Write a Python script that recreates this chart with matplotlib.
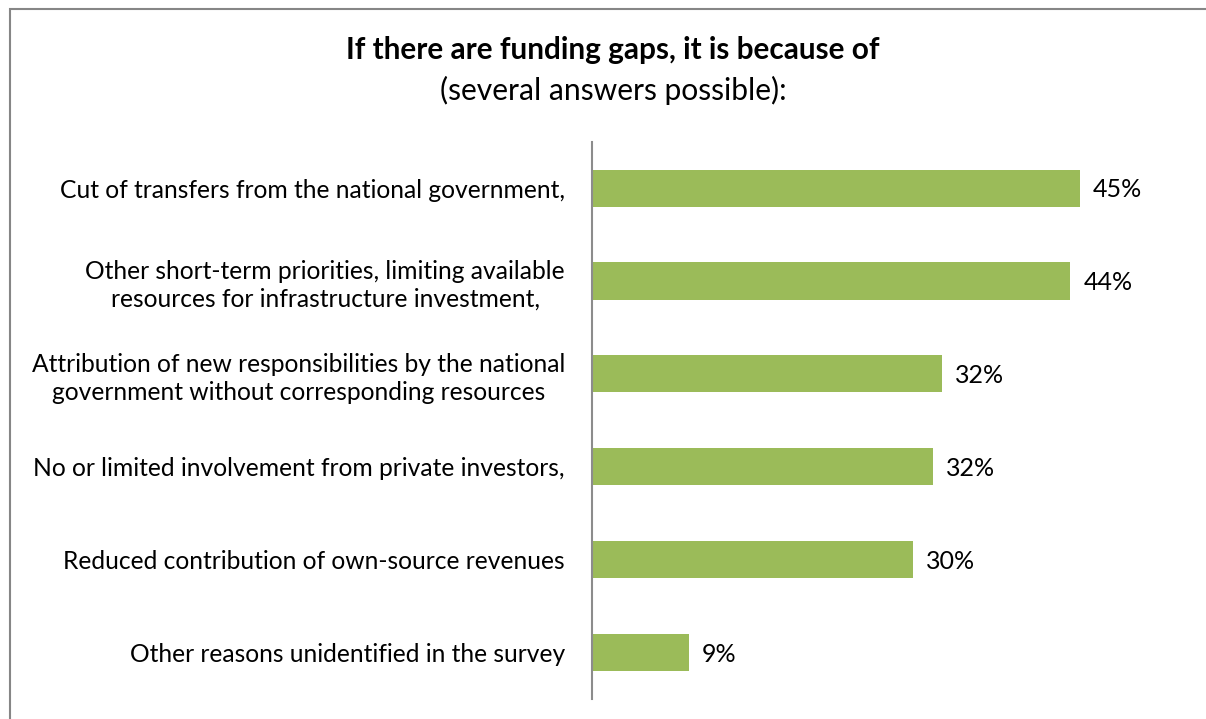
import matplotlib.pyplot as plt
from matplotlib.patches import Rectangle

categories = [
    "Cut of transfers from the national government,",
    "Other short-term priorities, limiting available\nresources for infrastructure investment,",
    "Attribution of new responsibilities by the national\ngovernment without corresponding resources",
    "No or limited involvement from private investors,",
    "Reduced contribution of own-source revenues",
    "Other reasons unidentified in the survey",
]
shares = [45.2, 44.3, 32.4, 31.6, 29.7, 9.0]

plt.rcParams["font.family"] = ["Lato", "DejaVu Sans"]

fig = plt.figure(figsize=(12.06, 7.19), dpi=100)
ax = fig.add_axes([592 / 1206, 0.028, 540 / 1206, 0.775])

pos = list(range(len(categories)))
ax.barh(pos, shares, height=0.4, color="#9BBB59")
for y, v in zip(pos, shares):
    ax.text(v + 1.2, y + 0.02, f"{v:.0f}%", va="center", ha="left", fontsize=18)

ax.set_xlim(0, 50)
ax.set_ylim(5.5, -0.5)
ax.set_xticks([])
ax.set_yticks(pos)
ax.set_yticklabels(categories, fontsize=17.7, linespacing=1.25)
for lbl in ax.get_yticklabels():
    lbl.set_multialignment("center")
ax.tick_params(axis="y", length=0, pad=19.5)
for side in ("top", "right", "bottom"):
    ax.spines[side].set_visible(False)
ax.spines["left"].set_color("#8c8c8c")
ax.spines["left"].set_linewidth(1.5)

fig.text(613 / 1206, 1 - 50 / 719, "If there are funding gaps, it is because of",
         ha="center", va="center", fontsize=21.4, fontweight="bold")
fig.text(613 / 1206, 1 - 90 / 719, "(several answers possible):",
         ha="center", va="center", fontsize=21.6)

# outer frame around the chart
fig.patches.append(Rectangle((10 / 1206, -0.1), 1.2, 1.1 - 9 / 719,
                             transform=fig.transFigure, fill=False,
                             edgecolor="#868686", linewidth=1.5))

fig.savefig("out.png", dpi=100)
